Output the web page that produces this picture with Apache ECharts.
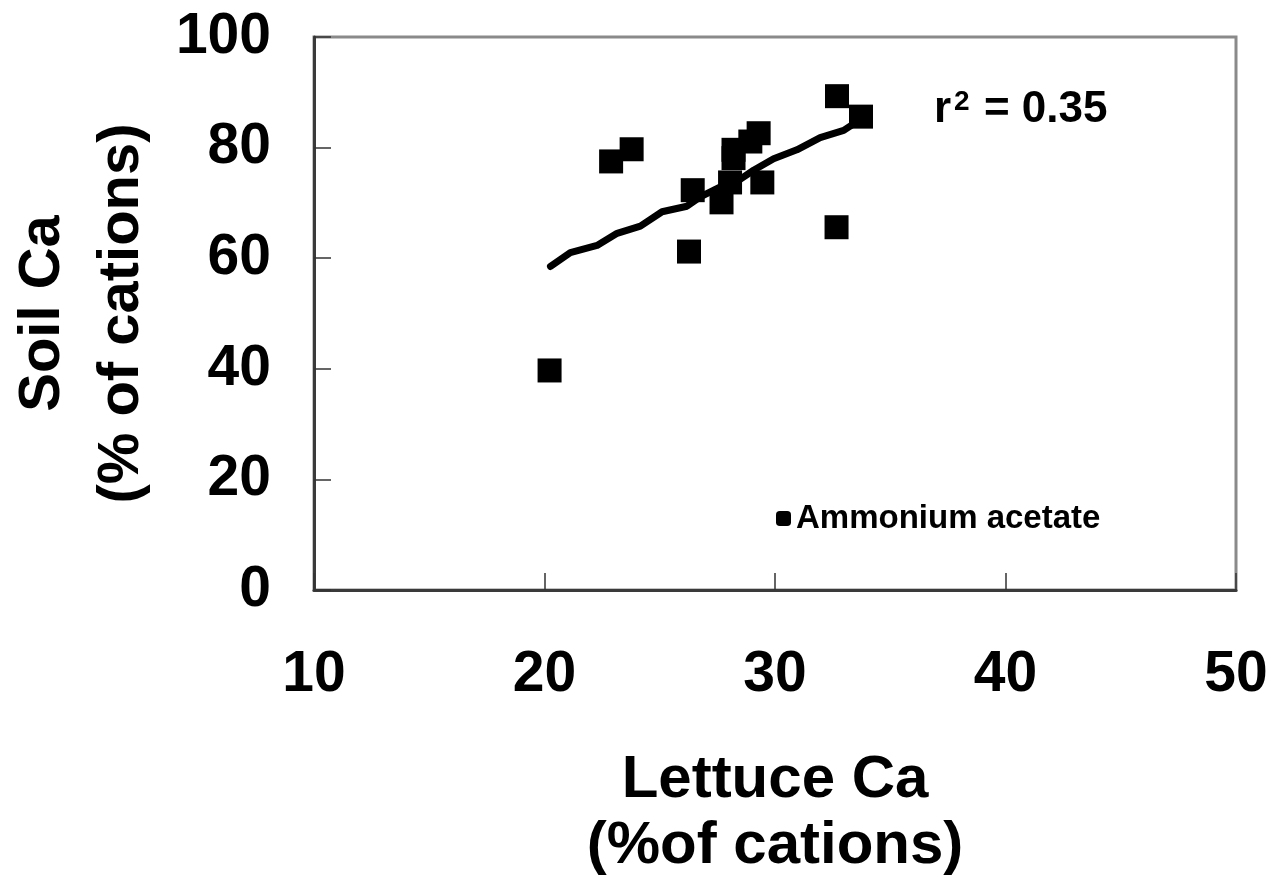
<!DOCTYPE html>
<html>
<head>
<meta charset="utf-8">
<script src="https://cdn.jsdelivr.net/npm/echarts@6/dist/echarts.min.js"></script>
<style>
  html, body { margin: 0; padding: 0; background: #fff; }
  #chart { width: 1274px; height: 878px; }
</style>
</head>
<body>
<div id="chart"></div>
<script>
// Lettuce Ca vs soil Ca (ammonium acetate extraction), % of cations
const lettuceCa = [32.69, 33.73, 29.29, 28.93, 28.20, 28.20, 28.05, 29.45, 26.43, 27.68, 23.78, 22.89, 26.27, 32.67, 20.22];
const soilCa    = [89.3, 85.6, 82.6, 81.1, 79.6, 78.1, 73.7, 73.7, 72.3, 70.1, 79.7, 77.5, 61.2, 65.6, 39.7];

// fitted values along the sorted lettuce Ca values
const fitX = [20.26, 21.12, 22.28, 23.15, 24.16, 25.10, 26.18, 26.76, 27.63, 28.50, 29.07, 29.94, 30.95, 31.96, 32.98, 33.41, 33.70];
const fitY = [58.5, 61.0, 62.3, 64.5, 65.8, 68.4, 69.4, 71.1, 72.9, 74.3, 75.9, 78.0, 79.6, 81.8, 83.1, 84.3, 84.9];

const xTicks = [10, 20, 30, 40, 50];
const yTicks = [0, 20, 40, 60, 80, 100];

const seriesName = 'Ammonium acetate';

const FONT = '"Liberation Sans", Arial, sans-serif';

const chart = echarts.init(document.getElementById('chart'));

chart.setOption({
  animation: false,
  backgroundColor: '#ffffff',
  grid: {
    left: 314, top: 37, width: 922, height: 553,
    show: true, borderColor: '#8a8a8a', borderWidth: 3,
    containLabel: false,
    outerBoundsMode: 'none'
  },
  legend: {
    data: [seriesName],
    left: 771, top: 497,
    icon: 'roundRect', itemWidth: 15, itemHeight: 15, itemGap: 15,
    textStyle: { fontFamily: FONT, fontWeight: 'bold', fontSize: 33, color: '#000' }
  },
  xAxis: {
    type: 'value',
    min: xTicks[0], max: xTicks[xTicks.length - 1], interval: 10,
    axisLine: { show: true, onZero: false, lineStyle: { color: '#3a3a3a', width: 3 } },
    axisTick: { show: true, inside: true, length: 17, lineStyle: { color: '#333', width: 1.5 } },
    splitLine: { show: false },
    axisLabel: { margin: 57, fontFamily: FONT, fontWeight: 'bold', fontSize: 57, color: '#000' },
    name: 'Lettuce Ca\n(%of cations)',
    nameLocation: 'middle',
    nameGap: 157,
    nameTextStyle: { fontFamily: FONT, fontWeight: 'bold', fontSize: 60, color: '#000', lineHeight: 66 }
  },
  yAxis: {
    type: 'value',
    min: yTicks[0], max: yTicks[yTicks.length - 1], interval: 20,
    axisLine: { show: true, onZero: false, lineStyle: { color: '#3a3a3a', width: 3 } },
    axisTick: { show: true, inside: true, length: 17, lineStyle: { color: '#333', width: 1.5 } },
    splitLine: { show: false },
    axisLabel: { margin: 43, fontFamily: FONT, fontWeight: 'bold', fontSize: 57, color: '#000' },
    name: 'Soil Ca\n(% of cations)',
    nameLocation: 'middle',
    nameRotate: 90,
    nameGap: 153,
    nameTextStyle: { fontFamily: FONT, fontWeight: 'bold', fontSize: 58, color: '#000', lineHeight: 79 }
  },
  series: [
    {
      name: 'fit',
      type: 'line',
      data: fitX.map((x, i) => [x, fitY[i]]),
      showSymbol: false,
      lineStyle: { color: '#000', width: 7, cap: 'round', join: 'round' },
      silent: true,
      z: 3
    },
    {
      name: seriesName,
      type: 'scatter',
      data: lettuceCa.map((x, i) => [x, soilCa[i]]),
      symbol: 'rect',
      symbolSize: 24,
      itemStyle: { color: '#000', opacity: 1, borderRadius: 2 },
      z: 2
    }
  ],
  graphic: [
    {
      type: 'text',
      left: 934, top: 88,
      style: {
        text: '{a|r}{s|2}{a| = 0.35}',
        rich: {
          a: { font: 'bold 44px ' + FONT, fill: '#000', verticalAlign: 'bottom' },
          s: { font: 'bold 28px ' + FONT, fill: '#000', verticalAlign: 'top', padding: [0, 2, 0, 3] }
        }
      }
    }
  ]
});
</script>
</body>
</html>
